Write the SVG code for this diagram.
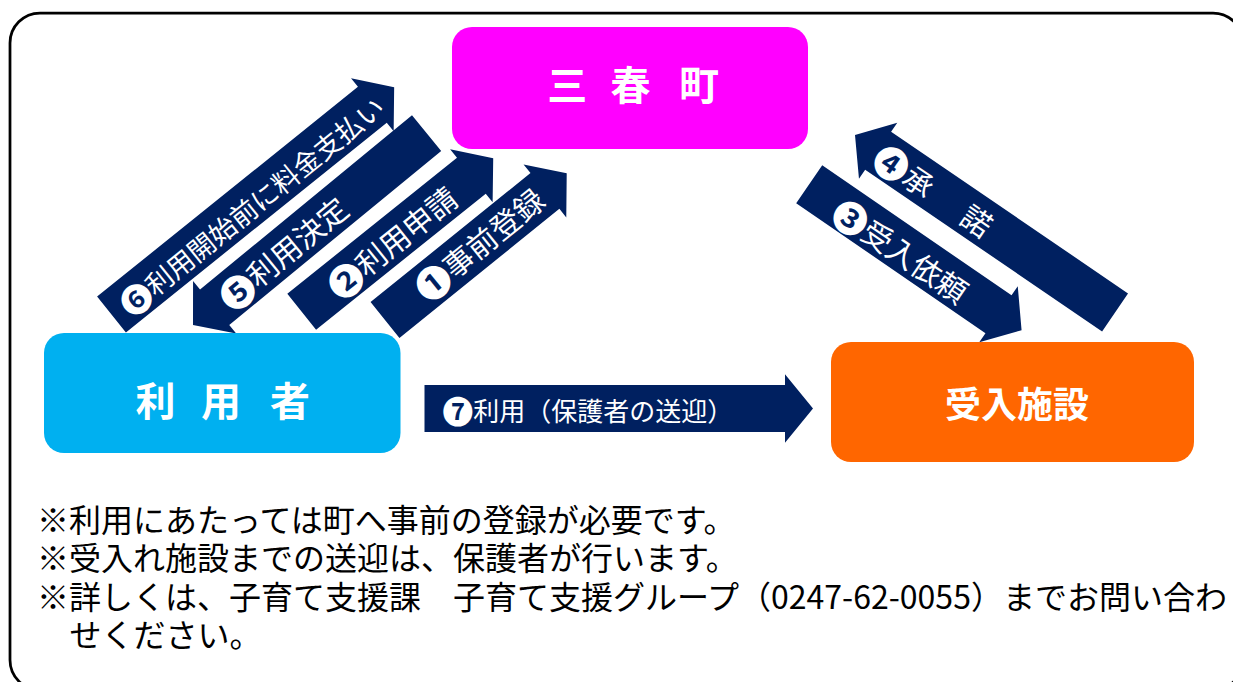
<svg xmlns="http://www.w3.org/2000/svg" width="1233" height="682" viewBox="0 0 1233 682">
<style>
.arrow{fill:#002060;}
.lbl{fill:#ffffff;font-family:"Noto Sans CJK JP","Noto Sans",sans-serif;dominant-baseline:central;}
.num{font-size:118%;font-weight:700;}
.node-t{fill:#ffffff;font-family:"Noto Sans CJK JP","Noto Sans",sans-serif;font-weight:700;text-anchor:middle;dominant-baseline:central;}
.note{fill:#000000;font-family:"Noto Sans CJK JP","Noto Sans",sans-serif;font-size:32px;dominant-baseline:central;}
</style>
<rect x="0" y="0" width="1233" height="682" fill="#ffffff"/>
<rect id="frame" x="10" y="13" width="1233" height="677" rx="30" ry="30" fill="none" stroke="#000000" stroke-width="2.75"/>

<g id="connectors">
  <g id="arrow6" transform="translate(111.5,314.5) rotate(-38.8)">
    <polygon class="arrow" points="0,-23 334.7,-23 334.7,-34 362.7,0 334.7,34 334.7,23 0,23"/>
    <text class="lbl" x="13" y="2" font-size="27"><tspan class="num">❻</tspan><tspan>利用開始前に料金支払い</tspan></text>
  </g>
  <g id="arrow5" transform="translate(193,325) rotate(-39.4)">
    <polygon class="arrow" points="0,0 28,-34 28,-23 302.3,-23 302.3,23 28,23 28,34"/>
    <text class="lbl" x="38" y="0.5" font-size="30"><tspan class="num">❺</tspan><tspan>利用決定</tspan></text>
  </g>
  <g id="arrow2" transform="translate(301.7,311.7) rotate(-38.7)">
    <polygon class="arrow" points="0,-23 217.4,-23 217.4,-34 245.4,0 217.4,34 217.4,23 0,23"/>
    <text class="lbl" x="36.5" y="1" font-size="30"><tspan class="num">❷</tspan><tspan>利用申請</tspan></text>
  </g>
  <g id="arrow1" transform="translate(385,320) rotate(-38.9)">
    <polygon class="arrow" points="0,-23 205.5,-23 205.5,-34 233.5,0 205.5,34 205.5,23 0,23"/>
    <text class="lbl" x="43.5" y="-1" font-size="30"><tspan class="num">❶</tspan><tspan>事前登録</tspan></text>
  </g>
  <g id="arrow3" transform="translate(809.2,184.2) rotate(34.5)">
    <polygon class="arrow" points="0,-23 229.7,-23 229.7,-34 257.7,0 229.7,34 229.7,23 0,23"/>
    <text class="lbl" x="35.5" y="2.5" font-size="30"><tspan class="num">❸</tspan><tspan>受入依頼</tspan></text>
  </g>
  <g id="arrow4" transform="translate(855,135) rotate(34.3)">
    <polygon class="arrow" points="0,0 28,-34 28,-23 314.8,-23 314.8,23 28,23 28,34"/>
    <text class="lbl" x="28.5" y="1" font-size="30"><tspan class="num">❹</tspan><tspan>承</tspan><tspan x="134">諾</tspan></text>
  </g>
  <g id="arrow7" transform="translate(424.5,408.5)">
    <polygon class="arrow" points="0,-23.5 360.5,-23.5 360.5,-34.3 388.5,0 360.5,34.3 360.5,23.5 0,23.5"/>
    <text class="lbl" x="18" y="0" font-size="26"><tspan class="num">❼</tspan><tspan>利用（保護者の送迎）</tspan></text>
  </g>
</g>

<g id="node-town">
  <rect x="452" y="27" width="356" height="122" rx="20" ry="20" fill="#FF00FF"/>
  <text class="node-t" y="82.5" font-size="40"><tspan x="571.7">三</tspan> <tspan x="635">春</tspan> <tspan x="699">町</tspan></text>
</g>
<g id="node-user">
  <rect x="44" y="333" width="356.5" height="120" rx="20" ry="20" fill="#00B0F0"/>
  <text class="node-t" y="399" font-size="40"><tspan x="160">利</tspan> <tspan x="225.5">用</tspan> <tspan x="290">者</tspan></text>
</g>
<g id="node-facility">
  <rect x="831" y="342" width="363" height="120" rx="20" ry="20" fill="#FF6600"/>
  <text class="node-t" x="1017" y="402" font-size="36">受入施設</text>
</g>

<g id="notes">
  <text class="note"><tspan x="37" y="517.5">※利用にあたっては町へ事前の登録が必要です。</tspan><tspan x="37" y="556">※受入れ施設までの送迎は、保護者が行います。</tspan><tspan x="37" y="594.5">※詳しくは、子育て支援課　子育て支援グループ（0247-62-0055）までお問い合わ</tspan><tspan x="69.5" y="633">せください。</tspan></text>
</g>
</svg>
